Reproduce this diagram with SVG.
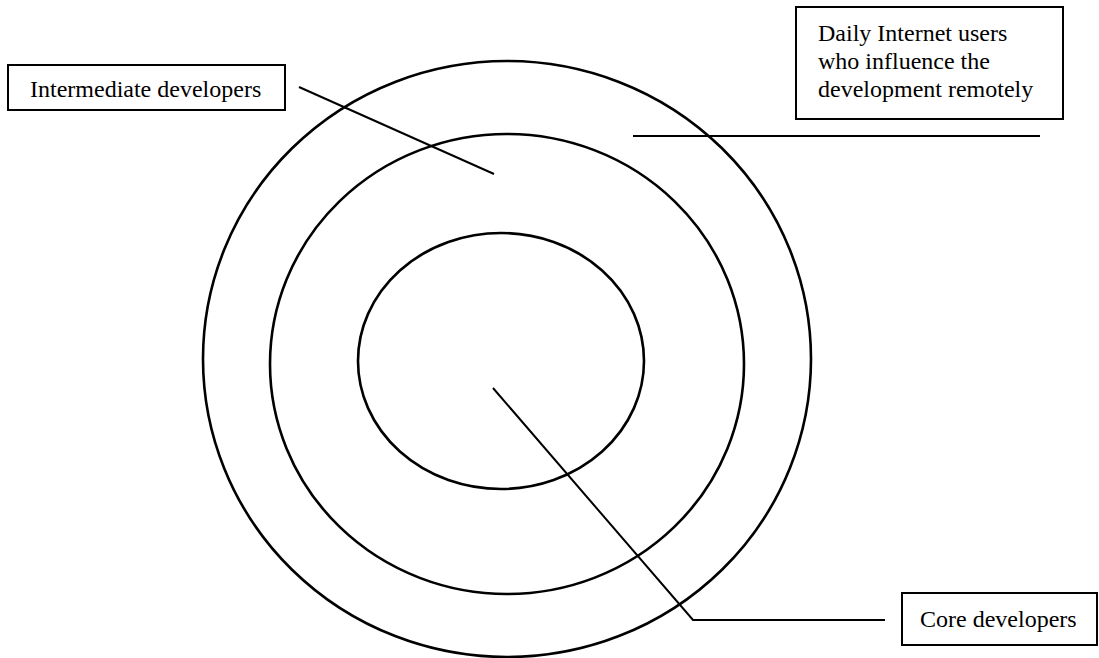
<svg xmlns="http://www.w3.org/2000/svg" width="1099" height="658" viewBox="0 0 1099 658">
<style>
.ring{fill:none;stroke:#000;stroke-width:2.6}
.box{fill:#fff;stroke:#000;stroke-width:2}
.lbl{font-family:"Liberation Serif","Times New Roman",serif;font-size:24px;fill:#000}
.conn{fill:none;stroke:#000;stroke-width:2}
</style>
<rect width="1099" height="658" fill="#fff"/>
<g id="rings">
<ellipse id="outer" class="ring" cx="507" cy="359" rx="304" ry="298"/>
<ellipse id="middle" class="ring" cx="507" cy="364" rx="237" ry="230"/>
<ellipse id="inner" class="ring" cx="501" cy="361" rx="143" ry="128"/>
</g>
<g id="connectors">
<line class="conn" x1="299" y1="87" x2="494" y2="174"/>
<line class="conn" x1="633" y1="136" x2="1040" y2="136"/>
<polyline class="conn" points="493,388 693,620 885,620"/>
</g>
<g id="intermediate">
<rect class="box" x="8" y="65" width="277" height="45"/>
<text class="lbl" x="30" y="97">Intermediate developers</text>
</g>
<g id="daily">
<rect class="box" x="796" y="7" width="267" height="112"/>
<text class="lbl" x="818" y="41">Daily Internet users</text>
<text class="lbl" x="818" y="69">who influence the</text>
<text class="lbl" x="818" y="97">development remotely</text>
</g>
<g id="core">
<rect class="box" x="902" y="593" width="195" height="52"/>
<text class="lbl" x="920" y="627">Core developers</text>
</g>
</svg>
